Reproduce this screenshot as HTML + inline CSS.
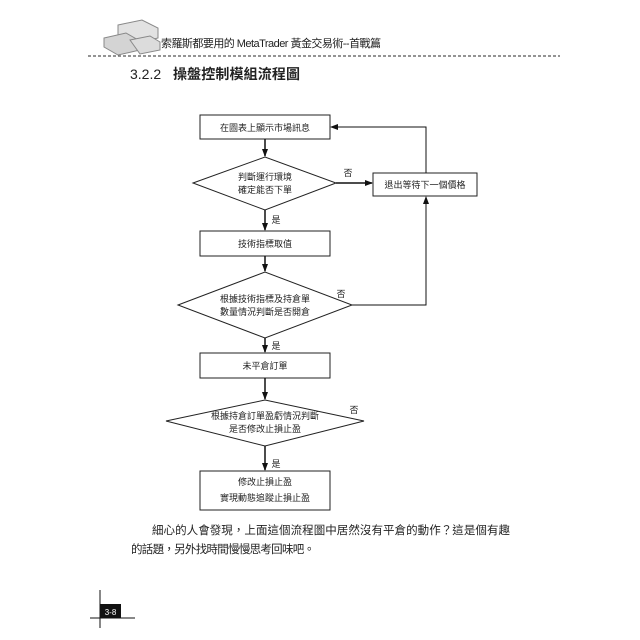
<!DOCTYPE html>
<html><head><meta charset="utf-8"><style>
html,body{margin:0;padding:0;background:#fff;width:640px;height:640px;overflow:hidden}
svg{display:block}
text{font-family:"Liberation Sans","Noto Sans CJK TC",sans-serif;fill:#222}
</style></head><body>
<svg width="640" height="640" viewBox="0 0 640 640" xmlns="http://www.w3.org/2000/svg">
<defs><marker id="a" markerWidth="8" markerHeight="8" refX="7" refY="4" orient="auto" markerUnits="userSpaceOnUse"><path d="M0,1 L8,4 L0,7 z" fill="#111"/></marker></defs>
<g stroke="#888" stroke-width="1">
<polygon points="118,25 142,20 158,28 158,38 134,44 118,36" fill="#e2e2e2"/>
<polygon points="104,38 126,33 140,41 140,50 118,55 104,47" fill="#d4d4d4"/>
<polygon points="130,40 150,36 160,42 160,50 140,54" fill="#dcdcdc"/>
</g>
<text x="161" y="47" font-size="11" textLength="220" lengthAdjust="spacing">索羅斯都要用的 MetaTrader 黃金交易術--首戰篇</text>
<line x1="88" y1="56" x2="560" y2="56" stroke="#555" stroke-width="1.2" stroke-dasharray="3,2"/>
<text x="130" y="79" font-size="14">3.2.2</text>
<text x="173" y="79" font-size="14" font-weight="bold" textLength="127">操盤控制模組流程圖</text>
<g fill="#fff" stroke="#222" stroke-width="1">
<rect x="200" y="115" width="130" height="24"/>
<polygon points="193,183 265,157 336,183 265,210"/>
<rect x="373" y="173" width="104" height="23"/>
<rect x="200" y="231" width="130" height="25"/>
<polygon points="178,305 265,272 352,305 265,338"/>
<rect x="200" y="353" width="130" height="25"/>
<polygon points="166,421 265,400 364,421 265,446"/>
<rect x="200" y="471" width="130" height="39"/>
</g>
<g stroke="#111" stroke-width="1.5" fill="none">
<line x1="265" y1="139" x2="265" y2="156" marker-end="url(#a)"/>
<line x1="265" y1="210" x2="265" y2="230" marker-end="url(#a)"/>
<line x1="265" y1="256" x2="265" y2="271" marker-end="url(#a)"/>
<line x1="265" y1="338" x2="265" y2="352" marker-end="url(#a)"/>
<line x1="265" y1="378" x2="265" y2="399" marker-end="url(#a)"/>
<line x1="265" y1="446" x2="265" y2="470" marker-end="url(#a)"/>
<line x1="336" y1="183" x2="372" y2="183" marker-end="url(#a)"/>
</g>
<g stroke="#111" stroke-width="1" fill="none">
<polyline points="426,173 426,127 331,127" marker-end="url(#a)"/>
<polyline points="352,305 426,305 426,197" marker-end="url(#a)"/>
</g>
<g font-size="9" text-anchor="middle">
<text x="265" y="131">在圖表上顯示市場訊息</text>
<text x="265" y="180">判斷運行環境</text>
<text x="265" y="193">確定能否下單</text>
<text x="425" y="188">退出等待下一個價格</text>
<text x="265" y="247">技術指標取值</text>
<text x="265" y="302">根據技術指標及持倉單</text>
<text x="265" y="315">數量情況判斷是否開倉</text>
<text x="265" y="369">未平倉訂單</text>
<text x="265" y="419">根據持倉訂單盈虧情況判斷</text>
<text x="265" y="432">是否修改止損止盈</text>
<text x="265" y="485">修改止損止盈</text>
<text x="265" y="501">實現動態追蹤止損止盈</text>
<text x="348" y="176">否</text>
<text x="341" y="297">否</text>
<text x="354" y="413">否</text>
<text x="276" y="223">是</text>
<text x="276" y="349">是</text>
<text x="276" y="467">是</text>
</g>
<text x="152" y="534" font-size="11.5" textLength="358" lengthAdjust="spacing">細心的人會發現，上面這個流程圖中居然沒有平倉的動作？這是個有趣</text>
<text x="131" y="553" font-size="11.5" textLength="184" lengthAdjust="spacing">的話題，另外找時間慢慢思考回味吧。</text>
<line x1="100" y1="590" x2="100" y2="628" stroke="#111" stroke-width="1"/>
<line x1="90" y1="618" x2="135" y2="618" stroke="#111" stroke-width="1"/>
<rect x="100" y="604" width="21" height="14" fill="#111"/>
<text x="110.5" y="615" font-size="8" text-anchor="middle" style="fill:#fff">3-8</text>
</svg>
</body></html>
